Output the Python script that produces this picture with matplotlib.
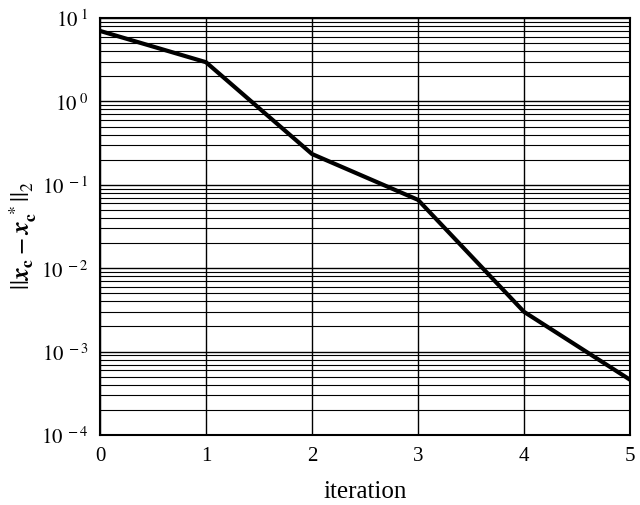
import matplotlib
matplotlib.use("Agg")
import matplotlib.pyplot as plt
from matplotlib.ticker import LogLocator, NullFormatter

plt.rcParams['font.family'] = ['Liberation Serif', 'DejaVu Serif']
plt.rcParams['mathtext.fontset'] = 'stix'

# data
iterations = [0, 1, 2, 3, 4, 5]
errors = [7.0, 2.95, 0.234, 0.066, 0.003, 0.00046]

fig = plt.figure(figsize=(6.4, 5.06), dpi=100)
ax = fig.add_axes([100 / 640, 1 - 436 / 506, 530 / 640, 417 / 506])

ax.semilogy(iterations, errors, color='black', linewidth=3, solid_joinstyle='miter')

ax.set_xlim(0, 5)
ax.set_ylim(1e-4, 1e1)
ax.set_xticks(range(6))
ax.yaxis.set_major_locator(LogLocator(base=10, numticks=10))
ax.yaxis.set_minor_locator(LogLocator(base=10, subs=range(2, 10), numticks=20))
ax.yaxis.set_minor_formatter(NullFormatter())
ax.set_yticks([1e-4, 1e-3, 1e-2, 1e-1, 1e0, 1e1])
ax.set_yticklabels([r'$10^{\ -4}$', r'$10^{\ -3}$', r'$10^{\ -2}$', r'$10^{\ -1}$',
                    r'$10^{\ 0}$', r'$10^{\ 1}$'])

ax.grid(True, which='major', color='black', linewidth=1.0)
ax.grid(True, which='minor', axis='y', color='black', linewidth=0.8)
ax.tick_params(which='both', length=0, labelsize=15)
ax.tick_params(axis='x', pad=8)
ax.tick_params(axis='y', pad=8)
for s in ax.spines.values():
    s.set_linewidth(1.5)

ax.set_xlabel('iteration', fontsize=18, labelpad=11)
ax.set_ylabel(r'$||\boldsymbol{x}_\mathbf{c} - \boldsymbol{x}_\mathbf{c}^{\ *}||_2$', fontsize=18)
ax.yaxis.set_label_coords(-0.115, 0.48)

fig.savefig('out.png', dpi=100)
